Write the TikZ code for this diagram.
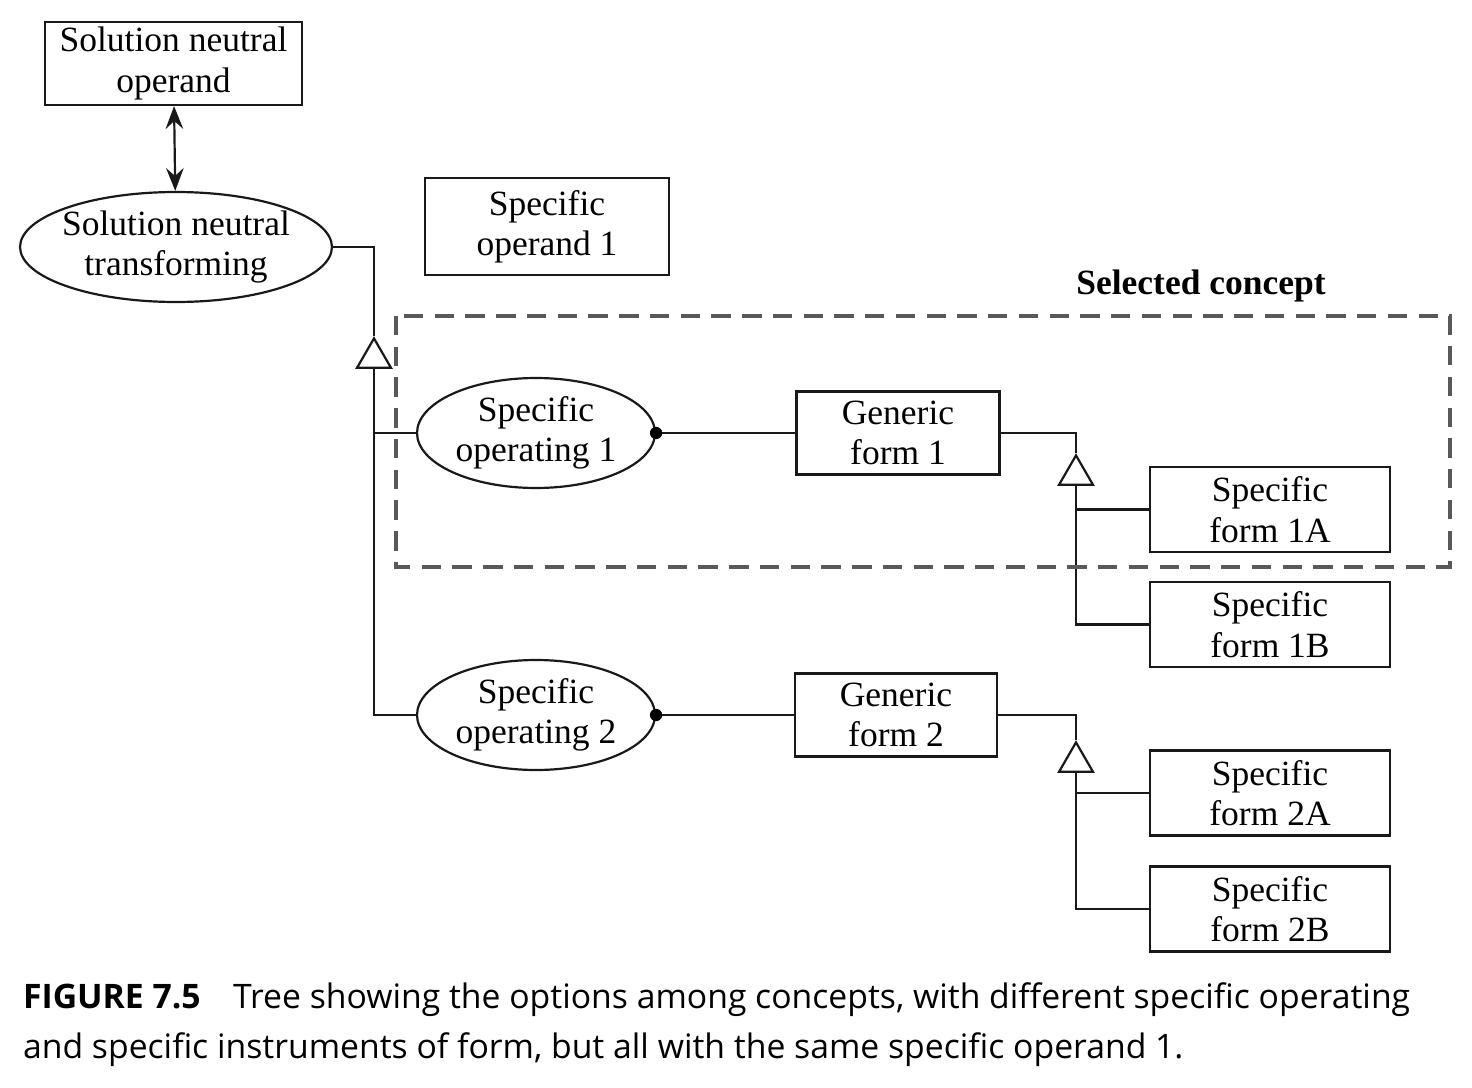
\documentclass[tikz,border=0pt]{standalone}
\usepackage{fontspec}
\setmainfont{Liberation Serif}
\newfontfamily\capfont{Open Sans}
\usetikzlibrary{arrows.meta, positioning, shapes.geometric}

\begin{document}
\begin{tikzpicture}[x=0.02cm, y=-0.02cm, line width=1.25pt, draw=black!90,
    font=\fontsize{20.2}{23}\selectfont]
    \tikzstyle{box}=[rectangle, draw, align=center, inner sep=2pt]
    \tikzstyle{oval}=[ellipse, draw, align=center, inner sep=-3pt]
    \tikzstyle{tri}=[regular polygon, regular polygon sides=3, draw, minimum size=0.785cm, inner sep=0pt]
    \tikzstyle{concept}=[draw=black!65, line width=2pt, dash pattern=on 11pt off 6.5pt]
    \tikzstyle{caption}=[anchor=base west, inner sep=0pt, font=\capfont\fontsize{19.2}{22}\selectfont]

    \useasboundingbox (0,0) rectangle (1472,1088);

    % Solution neutral part
    \node[box, minimum width=5.14cm, minimum height=1.66cm] (sno) at (173.5,63.5) {Solution neutral\\operand};
    \node[oval, minimum width=6.24cm, minimum height=2.2cm] (snt) at (176,247) {Solution neutral\\transforming};
    \node[box, minimum width=4.88cm, minimum height=1.94cm] (op1) at (547,226.5) {Specific\\operand 1};

    % Specialization triangles
    \node[tri] (T-0) at (374,358) {};
    \node[tri] (T-1) at (1076,475) {};
    \node[tri] (T-2) at (1076,762) {};

    % Specific operating and generic forms
    \node[oval, minimum width=4.76cm, minimum height=2.2cm] (SO-1) at (536,433) {Specific\\operating 1};
    \node[oval, minimum width=4.76cm, minimum height=2.2cm] (SO-2) at (536,715) {Specific\\operating 2};
    \node[box, minimum width=4.06cm, minimum height=1.66cm] (GF-1) at (898,433) {Generic\\form 1};
    \node[box, minimum width=4.04cm, minimum height=1.66cm] (GF-2) at (896,715) {Generic\\form 2};

    % Specific forms
    \foreach \name / \y in {1A/509.5, 1B/624.5, 2A/793, 2B/909}
        \node[box, minimum width=4.8cm, minimum height=1.7cm] (SF-\name) at (1270,\y) {Specific\\form \name};

    % Connections
    \draw[{Stealth[length=13pt,width=10pt,inset=4.5pt]}-{Stealth[length=13pt,width=10pt,inset=4.5pt]}] (sno) -- (snt);
    \draw (snt.east) -| (T-0.north);
    \draw (T-0.south) |- (SO-2.west);
    \draw (SO-1.west -| T-0.south) -- (SO-1.west);

    \foreach \i in {1,2} {
        \draw (SO-\i.east) -- (GF-\i.west);
        \fill[black] (SO-\i.east) circle (3.5pt);
        \draw (GF-\i.east) -| (T-\i.north);
    }
    \draw (T-1.south) |- (SF-1B.west);
    \draw (SF-1A.west -| T-1.south) -- (SF-1A.west);
    \draw (T-2.south) |- (SF-2B.west);
    \draw (SF-2A.west -| T-2.south) -- (SF-2A.west);

    % Selected concept
    \draw[concept] (396,316) rectangle (1450,567);
    \node[font=\fontsize{20.2}{23}\selectfont\bfseries] (sel) at (1201,286) {Selected concept};

    % Caption
    \node[caption] (cap1) at (22,1008)
        {\textbf{FIGURE 7.5}\hspace{0.7em} Tree showing the options among concepts, with different specific operating};
    \node[caption] (cap2) at (22,1058)
        {and specific instruments of form, but all with the same specific operand 1.};
\end{tikzpicture}
\end{document}
